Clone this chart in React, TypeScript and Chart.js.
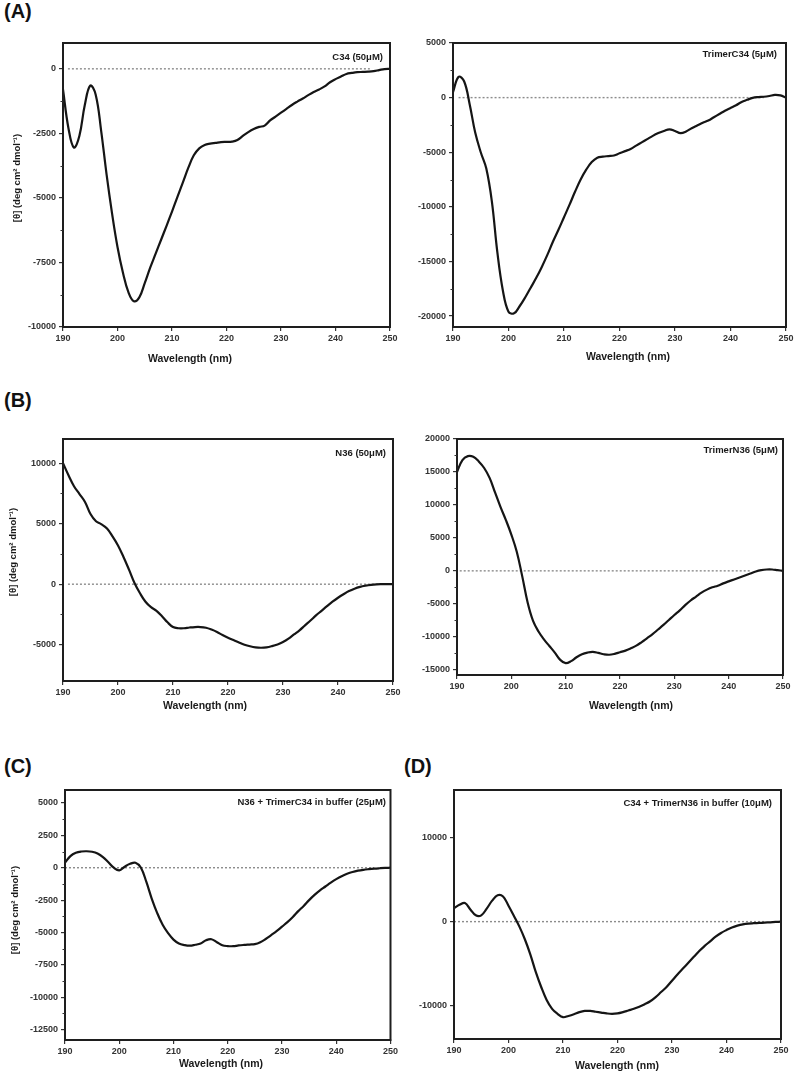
import React, { useEffect, useRef } from "react";
import { Chart, registerables } from "chart.js";
Chart.register(...registerables);

const FONT = '"Liberation Sans", Arial, sans-serif';
Chart.defaults.font.family = FONT;

const wavelengths = [
  190, 191, 192, 193, 194, 195, 196, 197, 198, 199, 200, 201, 202, 203, 204, 205, 206, 207, 208, 209,
  210, 211, 212, 213, 214, 215, 216, 217, 218, 219, 220, 221, 222, 223, 224, 225, 226, 227, 228, 229,
  230, 231, 232, 233, 234, 235, 236, 237, 238, 239, 240, 241, 242, 243, 244, 245, 246, 247, 248, 249, 250,
];
const xTicks = [190, 200, 210, 220, 230, 240, 250];

// (A) C34 (50 µM)
const c34 = [
  -800, -2300, -3050, -2600, -1400, -650, -1000, -2400, -4100, -5600, -6900, -7900, -8650, -9000, -8850, -8300, -7700, -7160, -6620, -6080,
  -5530, -4960, -4400, -3830, -3350, -3080, -2950, -2900, -2870, -2840, -2830, -2820, -2760, -2600, -2450, -2330, -2250, -2200, -2000, -1850,
  -1700, -1550, -1400, -1270, -1150, -1020, -900, -800, -680, -520, -400, -300, -200, -160, -130, -120, -110, -90, -50, -10, 0,
];
// (A) TrimerC34 (5 µM)
const trimerC34 = [
  500, 1900, 1500, -600, -3200, -5000, -6500, -9500, -14200, -17700, -19600, -19750, -19100, -18300, -17400, -16500, -15500, -14400, -13200, -12100,
  -10950, -9800, -8600, -7500, -6600, -5900, -5500, -5400, -5350, -5300, -5100, -4900, -4700, -4400, -4100, -3800, -3500, -3250, -3050, -2900,
  -3050, -3250, -3100, -2800, -2550, -2300, -2100, -1800, -1500, -1200, -950, -700, -400, -200, -20, 50, 80, 150, 250, 200, 0,
];
// (B) N36 (50 µM)
const n36 = [
  10000, 9000, 8100, 7450, 6800, 5800, 5200, 4950, 4600, 3950, 3200, 2250, 1200, 100, -750, -1450, -1900, -2200, -2650, -3150,
  -3540, -3640, -3640, -3580, -3540, -3540, -3600, -3750, -3950, -4200, -4420, -4620, -4820, -5000, -5130, -5220, -5250, -5220, -5120, -4980,
  -4780, -4500, -4150, -3810, -3400, -3000, -2580, -2200, -1820, -1450, -1120, -830, -570, -370, -220, -120, -50, -10, 0, 0, 0,
];
// (B) TrimerN36 (5 µM)
const trimerN36 = [
  15000, 16800, 17400, 17300, 16600, 15600, 14100, 11900, 9700, 7700, 5500, 2900, -800, -4800, -7600, -9200, -10400, -11400, -12400, -13500,
  -14000, -13700, -13100, -12650, -12400, -12300, -12450, -12650, -12730, -12600, -12350, -12100, -11750, -11350, -10800, -10200, -9600, -8900, -8200, -7450,
  -6700, -6000, -5200, -4500, -3900, -3300, -2850, -2500, -2250, -1900, -1600, -1300, -1000, -700, -400, -100, 100, 200, 200, 100, 0,
];
// (C) N36 + TrimerC34 in buffer (25 µM)
const n36TrimerC34 = [
  400, 900, 1150, 1250, 1270, 1230, 1100, 820, 420, 0, -200, 80, 300, 380, 0, -1100, -2400, -3500, -4400, -5050,
  -5550, -5850, -5970, -6020, -5950, -5850, -5600, -5520, -5750, -5980, -6050, -6060, -6000, -5960, -5930, -5900, -5750, -5500, -5200, -4900,
  -4550, -4200, -3800, -3350, -2950, -2500, -2100, -1750, -1450, -1150, -880, -650, -470, -330, -230, -160, -110, -70, -40, -15, 0,
];
// (D) C34 + TrimerN36 in buffer (10 µM)
const c34TrimerN36 = [
  1600, 2000, 2230, 1450, 750, 750, 1550, 2500, 3150, 3000, 1900, 670, -600, -2100, -3900, -6000, -7800, -9340, -10400, -11000,
  -11400, -11250, -11050, -10800, -10650, -10650, -10750, -10850, -10950, -11000, -10950, -10800, -10600, -10400, -10150, -9850, -9500, -9000, -8400, -7800,
  -7050, -6300, -5600, -4900, -4200, -3500, -2900, -2350, -1800, -1350, -1000, -700, -480, -320, -230, -190, -160, -120, -80, -40, 0,
];

const yTicksA1 = [0, -2500, -5000, -7500, -10000];
const yTicksA2 = [5000, 0, -5000, -10000, -15000, -20000];
const yTicksB1 = [10000, 5000, 0, -5000];
const yTicksB2 = [20000, 15000, 10000, 5000, 0, -5000, -10000, -15000];
const yTicksC = [5000, 2500, 0, -2500, -5000, -7500, -10000, -12500];
const yTicksD = [10000, 0, -10000];

const zeroA1 = [190.9, 246.3];
const zeroA2 = [191, 246];
const zeroB1 = [190.9, 248];
const zeroB2 = [190.5, 244];
const zeroC = [190, 247];
const zeroD = [190, 247];

const yTitle = "[θ] (deg cm² dmol⁻¹)";
const xTitle = "Wavelength (nm)";

type Box = { left: number; top: number; right: number; bottom: number };
type Panel = {
  canvas: { left: number; top: number; width: number; height: number };
  box: Box;
  yMin: number;
  yMax: number;
  yTicks: number[];
  minor: boolean;
  values: number[];
  zero: number[];
  label: string;
  labelRight: number;
  labelY: number;
  xTitleX: number;
  xTitleY: number;
  showYTitle: boolean;
  yTitleX: number;
  yTitleY: number;
};

const panels: Panel[] = [
  {
    canvas: { left: 0, top: 25, width: 400, height: 345 },
    box: { left: 63, top: 43, right: 390, bottom: 327 },
    yMin: -10000, yMax: 1000, yTicks: yTicksA1, minor: true, values: c34, zero: zeroA1,
    label: "C34 (50μM)", labelRight: 383, labelY: 57,
    xTitleX: 190, xTitleY: 359, showYTitle: true, yTitleX: 17, yTitleY: 178,
  },
  {
    canvas: { left: 400, top: 25, width: 400, height: 345 },
    box: { left: 453, top: 43, right: 786, bottom: 327 },
    yMin: -21000, yMax: 5000, yTicks: yTicksA2, minor: true, values: trimerC34, zero: zeroA2,
    label: "TrimerC34 (5μM)", labelRight: 777, labelY: 54,
    xTitleX: 628, xTitleY: 357, showYTitle: false, yTitleX: 0, yTitleY: 0,
  },
  {
    canvas: { left: 0, top: 420, width: 405, height: 300 },
    box: { left: 63, top: 439, right: 393, bottom: 681 },
    yMin: -8000, yMax: 12000, yTicks: yTicksB1, minor: true, values: n36, zero: zeroB1,
    label: "N36 (50μM)", labelRight: 386, labelY: 453,
    xTitleX: 205, xTitleY: 706, showYTitle: true, yTitleX: 13, yTitleY: 552,
  },
  {
    canvas: { left: 400, top: 420, width: 400, height: 300 },
    box: { left: 457, top: 439, right: 783, bottom: 675 },
    yMin: -15800, yMax: 20000, yTicks: yTicksB2, minor: true, values: trimerN36, zero: zeroB2,
    label: "TrimerN36 (5μM)", labelRight: 778, labelY: 450,
    xTitleX: 631, xTitleY: 706, showYTitle: false, yTitleX: 0, yTitleY: 0,
  },
  {
    canvas: { left: 0, top: 780, width: 400, height: 294 },
    box: { left: 65, top: 790, right: 391, bottom: 1040 },
    yMin: -13300, yMax: 6000, yTicks: yTicksC, minor: true, values: n36TrimerC34, zero: zeroC,
    label: "N36 + TrimerC34 in buffer (25μM)", labelRight: 386, labelY: 802,
    xTitleX: 221, xTitleY: 1064, showYTitle: true, yTitleX: 15, yTitleY: 910,
  },
  {
    canvas: { left: 400, top: 780, width: 400, height: 294 },
    box: { left: 454, top: 790, right: 781, bottom: 1039 },
    yMin: -14000, yMax: 15700, yTicks: yTicksD, minor: false, values: c34TrimerN36, zero: zeroD,
    label: "C34 + TrimerN36 in buffer (10μM)", labelRight: 772, labelY: 803,
    xTitleX: 617, xTitleY: 1066, showYTitle: false, yTitleX: 0, yTitleY: 0,
  },
];

const decorPlugin = {
  id: "decor",
  afterDraw(chart: any, _args: any, opts: any) {
    const { ctx, chartArea } = chart;
    const { left, top, right, bottom } = chartArea;
    ctx.save();
    ctx.strokeStyle = "#1e1e1e";
    ctx.lineWidth = 2;
    ctx.strokeRect(left, top, right - left, bottom - top);
    if (opts.minor) {
      const ys = chart.scales.y;
      const vals = ys.ticks.map((t: any) => t.value).sort((a: number, b: number) => a - b);
      ctx.lineWidth = 1;
      ctx.strokeStyle = "#333";
      for (let i = 0; i < vals.length - 1; i++) {
        const py = Math.round(ys.getPixelForValue((vals[i] + vals[i + 1]) / 2)) + 0.5;
        ctx.beginPath();
        ctx.moveTo(left - 2.5, py);
        ctx.lineTo(left, py);
        ctx.stroke();
      }
    }
    ctx.fillStyle = "#1a1a1a";
    ctx.font = `bold 9.5px ${FONT}`;
    ctx.textAlign = "right";
    ctx.textBaseline = "middle";
    ctx.fillText(opts.label, opts.labelRight, opts.labelY);
    ctx.font = `bold 10.5px ${FONT}`;
    ctx.textAlign = "center";
    ctx.fillText(opts.xTitle, opts.xTitleX, opts.xTitleY);
    if (opts.showYTitle) {
      ctx.font = `bold 9.5px ${FONT}`;
      ctx.translate(opts.yTitleX, opts.yTitleY);
      ctx.rotate(-Math.PI / 2);
      ctx.fillText(opts.yTitle, 0, 0);
    }
    ctx.restore();
  },
};

function PanelChart({ p }: { p: Panel }) {
  const ref = useRef<HTMLCanvasElement>(null);
  const c = p.canvas;
  useEffect(() => {
    if (!ref.current) return;
    const tickFont = { size: 9, weight: "bold" as const, family: FONT };
    const chart = new Chart(ref.current, {
      type: "line",
      data: {
        datasets: [
          {
            data: wavelengths.map((w, i) => ({ x: w, y: p.values[i] })),
            borderColor: "#151515",
            borderWidth: 2.2,
            pointRadius: 0,
            tension: 0.4,
            fill: false,
            order: 1,
          },
          {
            data: p.zero.map((x) => ({ x, y: 0 })),
            borderColor: "#8c8c8c",
            borderWidth: 1.4,
            borderDash: [2, 2],
            pointRadius: 0,
            fill: false,
            order: 2,
          },
        ],
      },
      options: {
        responsive: false,
        animation: false,
        events: [],
        layout: {
          padding: {
            left: 0,
            bottom: 0,
            top: p.box.top - c.top,
            right: c.left + c.width - p.box.right,
          },
        },
        plugins: {
          legend: { display: false },
          tooltip: { enabled: false },
          decor: {
            minor: p.minor,
            label: p.label,
            labelRight: p.labelRight - c.left,
            labelY: p.labelY - c.top,
            xTitle,
            xTitleX: p.xTitleX - c.left,
            xTitleY: p.xTitleY - c.top,
            showYTitle: p.showYTitle,
            yTitle,
            yTitleX: p.yTitleX - c.left,
            yTitleY: p.yTitleY - c.top,
          },
        } as any,
        scales: {
          x: {
            type: "linear",
            min: 190,
            max: 250,
            afterBuildTicks: (s: any) => {
              s.ticks = xTicks.map((v) => ({ value: v }));
            },
            afterFit: (s: any) => {
              s.height = c.top + c.height - p.box.bottom;
            },
            grid: { display: true, drawOnChartArea: false, drawTicks: true, tickLength: 4, color: "#333", lineWidth: 1.2 },
            border: { display: true, color: "#1e1e1e", width: 2 },
            ticks: { font: tickFont, color: "#333", padding: 2, maxRotation: 0, autoSkip: false },
          },
          y: {
            type: "linear",
            min: p.yMin,
            max: p.yMax,
            afterBuildTicks: (s: any) => {
              s.ticks = p.yTicks.map((v) => ({ value: v }));
            },
            afterFit: (s: any) => {
              s.width = p.box.left - c.left;
            },
            grid: { display: true, drawOnChartArea: false, drawTicks: true, tickLength: 4, color: "#333", lineWidth: 1.2 },
            border: { display: true, color: "#1e1e1e", width: 2 },
            ticks: { font: tickFont, color: "#333", padding: 3, autoSkip: false, callback: (v: any) => String(v) },
          },
        },
      },
      plugins: [decorPlugin as any],
    });
    return () => chart.destroy();
  }, []);
  return (
    <canvas
      ref={ref}
      width={c.width}
      height={c.height}
      style={{ position: "absolute", left: c.left, top: c.top, width: c.width, height: c.height }}
    />
  );
}

const panelLetters = [
  { text: "(A)", left: 4, top: 0 },
  { text: "(B)", left: 4, top: 389 },
  { text: "(C)", left: 4, top: 755 },
  { text: "(D)", left: 404, top: 755 },
];

export default function App() {
  return (
    <div style={{ position: "fixed", left: 0, top: 0, width: 800, height: 1074, background: "#fff", overflow: "hidden" }}>
      {panels.map((p, i) => (
        <PanelChart key={i} p={p} />
      ))}
      {panelLetters.map((l) => (
        <div
          key={l.text}
          style={{
            position: "absolute",
            left: l.left,
            top: l.top,
            font: `bold 20px ${FONT}`,
            lineHeight: "22px",
            color: "#111",
          }}
        >
          {l.text}
        </div>
      ))}
    </div>
  );
}
